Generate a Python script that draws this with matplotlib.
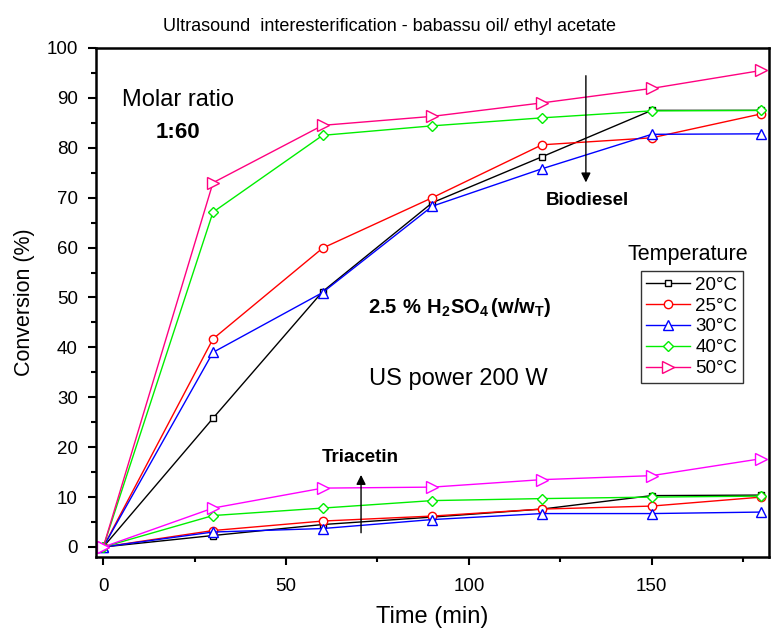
import numpy as np
import matplotlib.pyplot as plt
from matplotlib.ticker import MultipleLocator

plt.rcParams['font.family'] = ['Liberation Sans', 'DejaVu Sans']
plt.rcParams['mathtext.fontset'] = 'custom'
plt.rcParams['mathtext.rm'] = 'Liberation Sans'
plt.rcParams['mathtext.bf'] = 'Liberation Sans:bold'

time = [0, 30, 60, 90, 120, 150, 180]
temps = ['20°C', '25°C', '30°C', '40°C', '50°C']

biodiesel = {
    '20°C': [0, 25.8, 51.2, 69.0, 78.2, 87.5, 87.5],
    '25°C': [0, 41.7, 59.9, 70.0, 80.6, 82.0, 86.8],
    '30°C': [0, 39.0, 51.0, 68.3, 75.8, 82.7, 82.8],
    '40°C': [0, 67.1, 82.5, 84.4, 86.0, 87.4, 87.5],
    '50°C': [0, 73.0, 84.5, 86.3, 89.0, 91.9, 95.5],
}
triacetin = {
    '20°C': [0, 2.3, 4.5, 6.0, 7.6, 10.3, 10.4],
    '25°C': [0, 3.3, 5.2, 6.2, 7.6, 8.2, 10.0],
    '30°C': [0, 3.0, 3.7, 5.5, 6.7, 6.7, 7.0],
    '40°C': [0, 6.3, 7.8, 9.3, 9.7, 10.0, 10.2],
    '50°C': [0, 7.8, 11.8, 12.0, 13.5, 14.3, 17.7],
}

markers = ['s', 'o', '^', 'D', '>']
msizes = [5, 6, 6.5, 5.5, 8]
col_bio = ['k', '#ff0000', '#0000ff', '#00ee00', '#ff0080']
col_tri = ['k', '#ff0000', '#0000ff', '#00ee00', '#ff00ff']

fig = plt.figure(figsize=(7.71, 6.29), dpi=100)
ax = fig.add_axes([0.1245, 0.1145, 0.8725, 0.8092])

for t, m, ms, cb, ct in zip(temps, markers, msizes, col_bio, col_tri):
    ax.plot(time, biodiesel[t], color=cb, marker=m, ms=ms, mfc='white', mec=cb,
            lw=1, mew=1, label=t)
    ax.plot(time, triacetin[t], color=ct, marker=m, ms=ms, mfc='white', mec=ct,
            lw=1, mew=1)

ax.set_xlim(-2, 182)
ax.set_ylim(-2, 100)
ax.xaxis.set_major_locator(MultipleLocator(50))
ax.xaxis.set_minor_locator(MultipleLocator(25))
ax.yaxis.set_major_locator(MultipleLocator(10))
ax.yaxis.set_minor_locator(MultipleLocator(5))
ax.tick_params(which='major', length=6, width=1.5, labelsize=13.5)
ax.tick_params(axis='x', which='major', pad=9)
ax.tick_params(axis='y', which='major', pad=7)
ax.tick_params(which='minor', length=3.5, width=1.5)
for s in ax.spines.values():
    s.set_linewidth(1.8)

ax.set_xlabel('Time (min)', fontsize=17, labelpad=8)
ax.set_ylabel('Conversion (%)', fontsize=15.5, labelpad=8)
fig.text(0.505, 0.958, 'Ultrasound  interesterification - babassu oil/ ethyl acetate',
         ha='center', va='center', fontsize=13)

ax.text(5.2, 89.5, 'Molar ratio', fontsize=17, ha='left', va='center')
ax.text(20.5, 83, '1:60', fontsize=16, fontweight='bold', ha='center', va='center')
ax.text(97.4, 48, r'$\mathbf{2.5\ \%\ H_2SO_4\,(w/w_T)}$', fontsize=14.5, ha='center', va='center')
ax.text(97, 33.7, 'US power 200 W', fontsize=17, ha='center', va='center')
ax.text(132.4, 69.4, 'Biodiesel', fontsize=13.5, fontweight='bold', ha='center', va='center')
ax.text(70.4, 18, 'Triacetin', fontsize=13.5, fontweight='bold', ha='center', va='center')

ax.annotate('', xy=(132, 72.5), xytext=(132, 95.0),
            arrowprops=dict(arrowstyle='-|>', color='k', lw=1, mutation_scale=14))
ax.annotate('', xy=(70.5, 15), xytext=(70.5, 2.3),
            arrowprops=dict(arrowstyle='-|>', color='k', lw=1, mutation_scale=14))

leg = ax.legend(loc='upper left', bbox_to_anchor=(0.81, 0.562), borderaxespad=0,
                fontsize=13.5, frameon=True, fancybox=False,
                edgecolor='k', handlelength=2.3, borderpad=0.3, labelspacing=0.2,
                handletextpad=0.3)
leg.get_frame().set_linewidth(1)
ax.text(0.88, 0.595, 'Temperature', transform=ax.transAxes, fontsize=15.5,
        ha='center', va='center')

fig.savefig('out.png', dpi=100)
